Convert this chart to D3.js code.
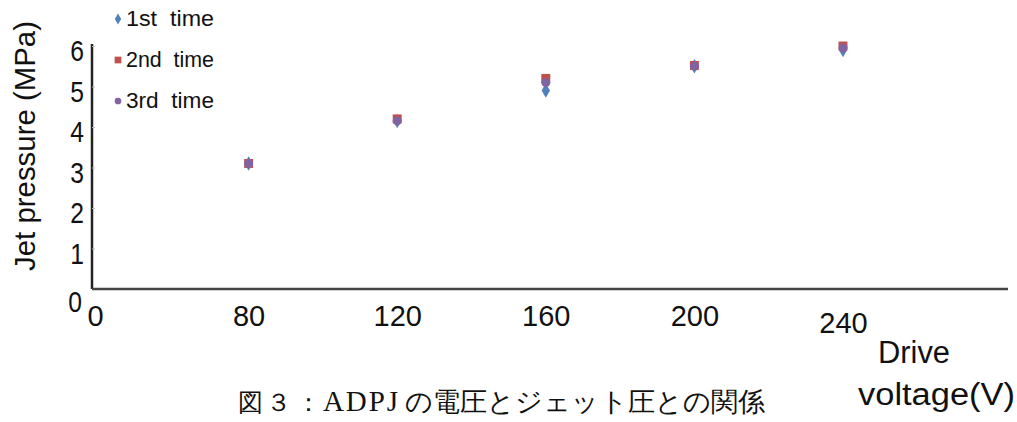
<!DOCTYPE html>
<html>
<head>
<meta charset="utf-8">
<script src="https://cdn.jsdelivr.net/npm/d3@7"></script>
<style>
  body { margin: 0; background: #fff; }
  svg { display: block; }
  text { font-family: "Liberation Sans", Arial, sans-serif; fill: #111; }
</style>
</head>
<body>
<div id="chart-area"></div>
<script>
// voltages (category axis) and the three measurement runs
const voltages = ["0", "80", "120", "160", "200", "240"];
const run1 = [null, 3.1, 4.15, 4.9, 5.5, 5.9];
const run2 = [null, 3.1, 4.2, 5.2, 5.52, 6.0];
const run3 = [null, 3.1, 4.15, 5.1, 5.5, 5.95];
const yTicks = [0, 1, 2, 3, 4, 5, 6];
const seriesNames = ["1st  time", "2nd  time", "3rd  time"];

const w = 1017;
const h = 422;

const svg = d3.select("#chart-area")
  .append("svg")
  .attr("width", w)
  .attr("height", h);

const x0 = 92, xEnd = 1008;
const yBase = 289, yTop = 46;

const x = d3.scalePoint()
  .domain(voltages)
  .range([100, 843]);

const y = d3.scaleLinear()
  .domain([0, 6])
  .range([yBase, yTop]);

// y axis
const yAxis = svg.append("g")
  .attr("transform", "translate(" + x0 + ",0)")
  .call(d3.axisLeft(y).tickValues(yTicks).tickFormat(d3.format("d")).tickSize(-3));
yAxis.select(".domain").attr("stroke", "#222").attr("stroke-width", 2.5)
  .attr("d", "M0," + yBase + "V" + (yTop - 2));
yAxis.selectAll(".tick line").attr("stroke", "#bbb").attr("x2", 3);
yAxis.selectAll(".tick text")
  .attr("font-size", "29px")
  .attr("fill", "#111")
  .attr("x", -8 / 0.85)
  .attr("dy", d => d === 0 ? "0.78em" : "0.5em")
  .attr("transform", "scale(0.85,1)");
yAxis.selectAll(".tick").filter(d => d === 0).select("text").attr("x", -10 / 0.85);

// x axis
const xAxis = svg.append("g")
  .attr("transform", "translate(0," + yBase + ")")
  .call(d3.axisBottom(x).tickSize(0).tickPadding(12));
xAxis.select(".domain").attr("stroke", "#444").attr("stroke-width", 2.5)
  .attr("d", "M" + x0 + ",0H" + xEnd);
xAxis.selectAll(".tick text")
  .attr("font-size", "29px")
  .attr("fill", "#111")
  .attr("dy", "0.85em");
xAxis.selectAll(".tick").filter(d => d === "0").select("text").attr("dx", "-5");
xAxis.selectAll(".tick").filter(d => d === "240").select("text").attr("dy", "1.1em");

// markers
const colors = ["#4F81BD", "#C0504D", "#8064A2"];
const sym = [d3.symbolDiamond, d3.symbolSquare, d3.symbolCircle];
const sizes = [60, 80, 64];
[run1, run2, run3].forEach((run, i) => {
  svg.append("g").selectAll("path")
    .data(voltages.map((v, j) => ({ v: v, p: run[j] })).filter(d => d.p != null))
    .enter().append("path")
    .attr("d", d3.symbol().type(sym[i]).size(sizes[i]))
    .attr("transform", d => "translate(" + x(d.v) + "," + y(d.p) + ")")
    .attr("fill", colors[i]);
});

// legend
const legend = svg.append("g");
seriesNames.forEach((name, i) => {
  const ly = 19 + i * 41;
  legend.append("path")
    .attr("d", d3.symbol().type(sym[i]).size(i === 1 ? 45 : 35))
    .attr("transform", "translate(118," + ly + ")")
    .attr("fill", colors[i]);
  legend.append("text")
    .attr("x", 126)
    .attr("y", ly + 7)
    .attr("font-size", "22px")
    .attr("font-family", "Open Sans, sans-serif")
    .attr("textLength", 88)
    .attr("lengthAdjust", "spacingAndGlyphs")
    .style("white-space", "pre")
    .text(name);
});

// y title
svg.append("text")
  .attr("transform", "translate(35,146) rotate(-90)")
  .attr("text-anchor", "middle")
  .attr("font-size", "29px")
  .attr("font-family", "Open Sans, sans-serif")
  .attr("textLength", 250)
  .attr("lengthAdjust", "spacingAndGlyphs")
  .text("Jet pressure (MPa)");

// x title
svg.append("text")
  .attr("x", 878).attr("y", 363)
  .attr("font-size", "31px")
  .attr("textLength", 72)
  .attr("lengthAdjust", "spacingAndGlyphs")
  .text("Drive");
svg.append("text")
  .attr("x", 858).attr("y", 405)
  .attr("font-size", "31px")
  .attr("textLength", 157)
  .attr("lengthAdjust", "spacingAndGlyphs")
  .text("voltage(V)");

// caption
const cap = svg.append("text")
  .attr("y", 411)
  .attr("font-size", "25px")
  .attr("font-family", "Noto Sans CJK JP, sans-serif");
cap.append("tspan").attr("x", 238).text("図");
cap.append("tspan").attr("x", 266).text("３");
cap.append("tspan").attr("x", 296).text("：");
cap.append("tspan").attr("x", 323).attr("font-family", "Liberation Serif, serif").attr("font-size", "29px")
  .attr("textLength", 75).text("ADPJ");
cap.append("tspan").attr("x", 405).attr("font-size", "27px")
  .attr("textLength", 360).attr("lengthAdjust", "spacingAndGlyphs")
  .text("の電圧とジェット圧との関係");
</script>
</body>
</html>
